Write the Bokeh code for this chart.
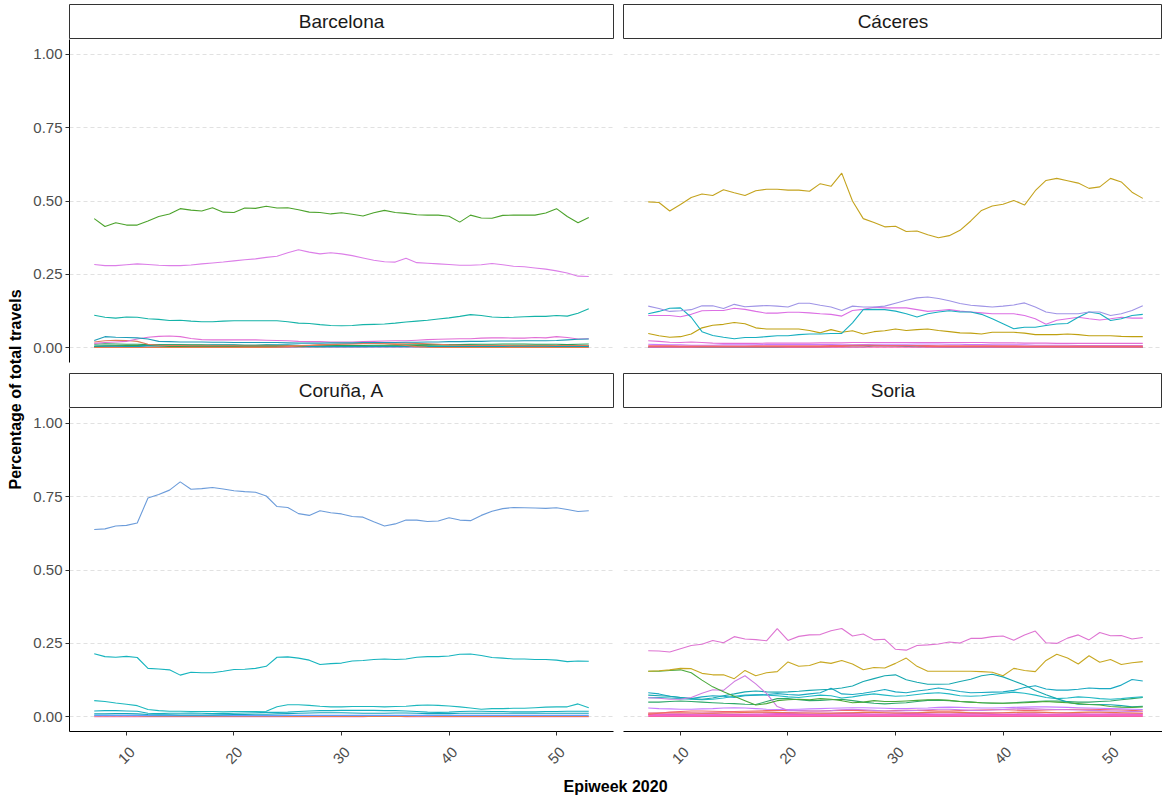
from math import pi

from bokeh.plotting import figure
from bokeh.models import Range1d, FixedTicker, LinearAxis, Grid, GridBox
from bokeh.core.properties import value
from bokeh.embed import file_html
from bokeh.resources import INLINE

# ---------------------------------------------------------------- data
weeks = list(range(7, 54))  # epiweeks 7..53 of 2020

provinces = ["Barcelona", "Cáceres", "Coruña, A", "Soria"]
y_ticks = [0.0, 0.25, 0.5, 0.75, 1.0]
y_tick_labels = ["0.00", "0.25", "0.50", "0.75", "1.00"]
x_ticks = [10, 20, 30, 40, 50]
x_tick_labels = ["10", "20", "30", "40", "50"]
y_title = "Percentage of total travels"
x_title = "Epiweek 2020"

# Barcelona
bcn_green = [0.440, 0.413, 0.426, 0.418, 0.418, 0.432, 0.447, 0.456, 0.474, 0.469,
             0.466, 0.477, 0.462, 0.461, 0.476, 0.475, 0.482, 0.476, 0.477, 0.470,
             0.462, 0.461, 0.456, 0.460, 0.455, 0.449, 0.460, 0.468, 0.461, 0.458,
             0.453, 0.452, 0.452, 0.448, 0.428, 0.452, 0.442, 0.441, 0.451, 0.452,
             0.452, 0.452, 0.459, 0.474, 0.447, 0.426, 0.444]
bcn_pink = [0.284, 0.280, 0.280, 0.283, 0.286, 0.284, 0.281, 0.280, 0.280, 0.282,
            0.286, 0.289, 0.292, 0.296, 0.300, 0.303, 0.308, 0.312, 0.324, 0.334,
            0.326, 0.320, 0.324, 0.320, 0.314, 0.306, 0.298, 0.293, 0.292, 0.305,
            0.290, 0.288, 0.286, 0.284, 0.281, 0.281, 0.283, 0.287, 0.283, 0.278,
            0.276, 0.272, 0.268, 0.262, 0.255, 0.244, 0.243]
bcn_teal = [0.111, 0.104, 0.101, 0.105, 0.104, 0.099, 0.097, 0.093, 0.094, 0.091,
            0.089, 0.089, 0.091, 0.092, 0.092, 0.092, 0.092, 0.092, 0.089, 0.084,
            0.083, 0.079, 0.076, 0.075, 0.076, 0.079, 0.080, 0.081, 0.084, 0.088,
            0.091, 0.094, 0.098, 0.102, 0.107, 0.113, 0.110, 0.105, 0.103, 0.104,
            0.106, 0.107, 0.107, 0.110, 0.108, 0.118, 0.133]
bcn_teal_lo = [0.025, 0.038, 0.036, 0.035, 0.034, 0.030, 0.022, 0.021, 0.020, 0.020,
               0.020, 0.019, 0.019, 0.018, 0.018, 0.018, 0.018, 0.018, 0.017, 0.016,
               0.016, 0.016, 0.017, 0.017, 0.017, 0.018, 0.018, 0.018, 0.018, 0.019,
               0.019, 0.020, 0.020, 0.021, 0.021, 0.022, 0.022, 0.023, 0.023, 0.023,
               0.024, 0.024, 0.024, 0.025, 0.027, 0.029, 0.030]
bcn_pink_lo = [0.015, 0.018, 0.020, 0.022, 0.030, 0.036, 0.039, 0.040, 0.038, 0.032,
               0.028, 0.027, 0.027, 0.027, 0.027, 0.027, 0.026, 0.025, 0.024, 0.022,
               0.021, 0.021, 0.020, 0.020, 0.020, 0.021, 0.022, 0.023, 0.024, 0.024,
               0.026, 0.028, 0.029, 0.030, 0.031, 0.031, 0.033, 0.034, 0.034, 0.033,
               0.033, 0.035, 0.034, 0.038, 0.035, 0.030, 0.031]
bcn_orange_lo = [0.020, 0.024, 0.026, 0.025, 0.022, 0.012, 0.009, 0.008, 0.008, 0.007,
                 0.007, 0.007, 0.007, 0.007, 0.006, 0.006, 0.006, 0.006, 0.007, 0.008,
                 0.009, 0.010, 0.011, 0.012, 0.013, 0.014, 0.015, 0.016, 0.016, 0.016,
                 0.015, 0.014, 0.012, 0.010, 0.009, 0.008, 0.008, 0.008, 0.008, 0.007,
                 0.007, 0.007, 0.007, 0.008, 0.008, 0.008, 0.008]
bcn_orange_mid = [0.001, 0.001, 0.001, 0.001, 0.001, 0.001, 0.001, 0.001, 0.001, 0.001,
                  0.001, 0.001, 0.001, 0.001, 0.001, 0.001, 0.001, 0.002, 0.004, 0.006,
                  0.008, 0.010, 0.012, 0.013, 0.014, 0.015, 0.015, 0.014, 0.012, 0.008,
                  0.004, 0.002, 0.001, 0.001, 0.001, 0.001, 0.001, 0.001, 0.001, 0.001,
                  0.001, 0.001, 0.001, 0.001, 0.001, 0.001, 0.001]
bcn_green_lo = [0.012, 0.014, 0.013, 0.012, 0.012, 0.011, 0.010, 0.010, 0.010, 0.010,
                0.010, 0.009, 0.009, 0.009, 0.009, 0.009, 0.009, 0.008, 0.008, 0.008,
                0.008, 0.008, 0.008, 0.008, 0.008, 0.008, 0.009, 0.009, 0.010, 0.010,
                0.010, 0.011, 0.011, 0.011, 0.011, 0.012, 0.012, 0.012, 0.013, 0.013,
                0.013, 0.012, 0.012, 0.012, 0.011, 0.012, 0.013]
bcn_green_band = [0.005, 0.006, 0.007, 0.008, 0.008, 0.007, 0.006, 0.005, 0.004, 0.004,
                  0.004, 0.004, 0.004, 0.004, 0.004, 0.004, 0.004, 0.004, 0.004, 0.004,
                  0.004, 0.004, 0.005, 0.005, 0.006, 0.006, 0.006, 0.006, 0.007, 0.007,
                  0.008, 0.009, 0.010, 0.010, 0.010, 0.010, 0.009, 0.009, 0.009, 0.009,
                  0.009, 0.009, 0.009, 0.008, 0.008, 0.008, 0.008]
bcn_teal_band = [0.003, 0.003, 0.003, 0.004, 0.004, 0.009, 0.010, 0.010, 0.010, 0.009,
                 0.009, 0.010, 0.010, 0.010, 0.009, 0.009, 0.010, 0.010, 0.010, 0.009,
                 0.005, 0.004, 0.004, 0.004, 0.004, 0.004, 0.004, 0.004, 0.004, 0.004,
                 0.004, 0.004, 0.004, 0.004, 0.004, 0.004, 0.004, 0.004, 0.004, 0.004,
                 0.004, 0.004, 0.004, 0.004, 0.004, 0.004, 0.004]
bcn_cyan_lo = [0.006, 0.007, 0.007, 0.006, 0.006, 0.007, 0.007, 0.008, 0.008, 0.008,
               0.008, 0.008, 0.008, 0.008, 0.008, 0.008, 0.008, 0.007, 0.006, 0.005,
               0.005, 0.005, 0.004, 0.004, 0.004, 0.004, 0.005, 0.005, 0.005, 0.005,
               0.005, 0.005, 0.005, 0.005, 0.005, 0.005, 0.005, 0.005, 0.006, 0.006,
               0.006, 0.006, 0.006, 0.006, 0.006, 0.006, 0.006]
bcn_hotpink_lo = [0.002, 0.002, 0.002, 0.002, 0.002, 0.002, 0.002, 0.002, 0.002, 0.002,
                  0.002, 0.002, 0.002, 0.002, 0.002, 0.002, 0.002, 0.002, 0.002, 0.003,
                  0.003, 0.003, 0.003, 0.003, 0.003, 0.003, 0.003, 0.003, 0.003, 0.003,
                  0.003, 0.003, 0.003, 0.003, 0.002, 0.002, 0.002, 0.002, 0.002, 0.002,
                  0.002, 0.002, 0.002, 0.002, 0.002, 0.002, 0.002]
bcn_blue_lo = [0.004, 0.004, 0.004, 0.004, 0.004, 0.003, 0.003, 0.003, 0.003, 0.003,
               0.003, 0.003, 0.003, 0.003, 0.003, 0.003, 0.003, 0.003, 0.003, 0.003,
               0.003, 0.004, 0.004, 0.004, 0.004, 0.004, 0.004, 0.004, 0.004, 0.004,
               0.004, 0.004, 0.004, 0.004, 0.004, 0.004, 0.004, 0.004, 0.004, 0.004,
               0.004, 0.004, 0.004, 0.004, 0.004, 0.004, 0.004]

# Cáceres
cac_gold = [0.497, 0.495, 0.466, 0.488, 0.512, 0.524, 0.519, 0.538, 0.528, 0.519,
            0.535, 0.540, 0.540, 0.537, 0.537, 0.533, 0.559, 0.550, 0.595, 0.500,
            0.440, 0.427, 0.412, 0.414, 0.396, 0.398, 0.385, 0.375, 0.382, 0.400,
            0.432, 0.468, 0.483, 0.489, 0.502, 0.486, 0.535, 0.570, 0.577, 0.569,
            0.561, 0.543, 0.548, 0.577, 0.565, 0.530, 0.509]
cac_lavender = [0.142, 0.134, 0.124, 0.126, 0.130, 0.143, 0.143, 0.134, 0.148, 0.140,
                0.142, 0.144, 0.142, 0.139, 0.152, 0.152, 0.145, 0.139, 0.127, 0.142,
                0.139, 0.139, 0.142, 0.152, 0.162, 0.170, 0.173, 0.168, 0.160, 0.151,
                0.145, 0.142, 0.139, 0.142, 0.146, 0.153, 0.139, 0.122, 0.116, 0.116,
                0.116, 0.122, 0.122, 0.110, 0.116, 0.127, 0.143]
cac_teal = [0.116, 0.124, 0.135, 0.136, 0.104, 0.055, 0.042, 0.036, 0.031, 0.035,
            0.035, 0.038, 0.041, 0.041, 0.045, 0.047, 0.047, 0.049, 0.049, 0.085,
            0.130, 0.131, 0.130, 0.125, 0.116, 0.105, 0.116, 0.122, 0.126, 0.122,
            0.122, 0.114, 0.099, 0.082, 0.065, 0.070, 0.070, 0.076, 0.081, 0.083,
            0.104, 0.122, 0.116, 0.093, 0.099, 0.110, 0.114]
cac_pink = [0.110, 0.110, 0.110, 0.106, 0.114, 0.126, 0.127, 0.127, 0.135, 0.131,
            0.124, 0.118, 0.118, 0.121, 0.121, 0.119, 0.116, 0.114, 0.108, 0.127,
            0.131, 0.138, 0.136, 0.136, 0.136, 0.130, 0.124, 0.127, 0.130, 0.125,
            0.122, 0.119, 0.116, 0.116, 0.116, 0.110, 0.099, 0.080, 0.094, 0.099,
            0.104, 0.099, 0.095, 0.099, 0.104, 0.101, 0.101]
cac_gold_lo = [0.049, 0.041, 0.036, 0.038, 0.047, 0.068, 0.077, 0.080, 0.086, 0.082,
               0.068, 0.064, 0.064, 0.064, 0.064, 0.059, 0.051, 0.062, 0.053, 0.058,
               0.047, 0.055, 0.058, 0.064, 0.059, 0.062, 0.064, 0.059, 0.055, 0.051,
               0.050, 0.047, 0.053, 0.053, 0.053, 0.050, 0.045, 0.045, 0.045, 0.047,
               0.045, 0.041, 0.041, 0.041, 0.039, 0.038, 0.038]
cac_pink_lo = [0.024, 0.022, 0.019, 0.018, 0.020, 0.018, 0.016, 0.015, 0.015, 0.015,
               0.015, 0.016, 0.016, 0.016, 0.016, 0.016, 0.017, 0.017, 0.017, 0.018,
               0.018, 0.018, 0.018, 0.018, 0.018, 0.018, 0.018, 0.018, 0.018, 0.018,
               0.018, 0.018, 0.017, 0.017, 0.017, 0.016, 0.016, 0.016, 0.015, 0.015,
               0.015, 0.015, 0.015, 0.015, 0.015, 0.015, 0.015]
cac_violet_lo = [0.012, 0.011, 0.010, 0.010, 0.009, 0.009, 0.009, 0.010, 0.010, 0.010,
                 0.010, 0.011, 0.011, 0.011, 0.011, 0.011, 0.011, 0.011, 0.010, 0.010,
                 0.011, 0.012, 0.012, 0.012, 0.012, 0.013, 0.013, 0.013, 0.012, 0.012,
                 0.011, 0.011, 0.010, 0.010, 0.010, 0.010, 0.009, 0.009, 0.009, 0.009,
                 0.008, 0.008, 0.008, 0.008, 0.008, 0.008, 0.008]
cac_red_lo = [0.005, 0.005, 0.005, 0.004, 0.004, 0.004, 0.004, 0.004, 0.004, 0.004,
              0.004, 0.004, 0.004, 0.004, 0.004, 0.004, 0.004, 0.005, 0.005, 0.006,
              0.006, 0.006, 0.006, 0.006, 0.006, 0.006, 0.005, 0.005, 0.005, 0.005,
              0.005, 0.005, 0.005, 0.004, 0.004, 0.004, 0.004, 0.004, 0.004, 0.004,
              0.004, 0.004, 0.004, 0.004, 0.004, 0.004, 0.004]
cac_red_band = [0.007, 0.007, 0.007, 0.006, 0.006, 0.006, 0.006, 0.006, 0.006, 0.006,
                0.007, 0.007, 0.007, 0.007, 0.007, 0.007, 0.007, 0.008, 0.008, 0.009,
                0.009, 0.009, 0.008, 0.008, 0.008, 0.008, 0.008, 0.007, 0.007, 0.007,
                0.007, 0.007, 0.007, 0.007, 0.007, 0.006, 0.006, 0.006, 0.006, 0.006,
                0.006, 0.006, 0.006, 0.006, 0.006, 0.006, 0.006]
cac_hotpink_lo = [0.002, 0.002, 0.002, 0.002, 0.002, 0.003, 0.003, 0.003, 0.003, 0.003,
                  0.003, 0.003, 0.003, 0.002, 0.002, 0.002, 0.002, 0.002, 0.002, 0.002,
                  0.002, 0.002, 0.002, 0.002, 0.002, 0.002, 0.002, 0.002, 0.002, 0.002,
                  0.002, 0.002, 0.002, 0.002, 0.002, 0.002, 0.002, 0.002, 0.002, 0.002,
                  0.002, 0.002, 0.002, 0.002, 0.002, 0.002, 0.002]
cac_green_lo = [0.001, 0.001, 0.001, 0.001, 0.001, 0.001, 0.001, 0.001, 0.001, 0.001,
                0.001, 0.001, 0.001, 0.001, 0.001, 0.001, 0.002, 0.004, 0.007, 0.008,
                0.008, 0.008, 0.008, 0.007, 0.007, 0.006, 0.004, 0.002, 0.001, 0.001,
                0.001, 0.001, 0.001, 0.001, 0.001, 0.001, 0.001, 0.001, 0.001, 0.001,
                0.001, 0.001, 0.001, 0.001, 0.001, 0.001, 0.001]
cac_teal_lo = [0.003, 0.003, 0.003, 0.003, 0.003, 0.003, 0.003, 0.003, 0.003, 0.003,
               0.003, 0.003, 0.003, 0.003, 0.003, 0.003, 0.003, 0.003, 0.003, 0.003,
               0.003, 0.006, 0.007, 0.006, 0.005, 0.003, 0.003, 0.003, 0.003, 0.003,
               0.003, 0.003, 0.003, 0.003, 0.003, 0.003, 0.003, 0.003, 0.003, 0.003,
               0.003, 0.003, 0.003, 0.003, 0.003, 0.003, 0.003]

# Coruña, A
cor_blue = [0.638, 0.640, 0.650, 0.652, 0.660, 0.745, 0.757, 0.772, 0.800, 0.775,
            0.777, 0.781, 0.776, 0.770, 0.767, 0.765, 0.752, 0.716, 0.713, 0.692,
            0.686, 0.702, 0.695, 0.691, 0.682, 0.680, 0.664, 0.650, 0.657, 0.670,
            0.670, 0.665, 0.667, 0.678, 0.670, 0.668, 0.686, 0.700, 0.709, 0.713,
            0.712, 0.711, 0.710, 0.712, 0.706, 0.699, 0.702]
cor_teal = [0.215, 0.205, 0.203, 0.206, 0.202, 0.165, 0.163, 0.160, 0.142, 0.152,
            0.150, 0.150, 0.155, 0.161, 0.162, 0.165, 0.172, 0.203, 0.204, 0.200,
            0.193, 0.178, 0.181, 0.183, 0.190, 0.192, 0.195, 0.197, 0.195, 0.197,
            0.203, 0.205, 0.205, 0.207, 0.213, 0.214, 0.209, 0.202, 0.200, 0.197,
            0.197, 0.195, 0.195, 0.193, 0.188, 0.190, 0.189]
cor_teal_mid = [0.055, 0.052, 0.047, 0.043, 0.038, 0.025, 0.021, 0.019, 0.019, 0.018,
                0.018, 0.018, 0.017, 0.018, 0.018, 0.018, 0.019, 0.034, 0.041, 0.041,
                0.039, 0.036, 0.034, 0.034, 0.035, 0.035, 0.035, 0.034, 0.035, 0.036,
                0.039, 0.040, 0.039, 0.037, 0.034, 0.030, 0.026, 0.028, 0.028, 0.029,
                0.029, 0.031, 0.033, 0.034, 0.034, 0.044, 0.031]
cor_teal_lo = [0.020, 0.021, 0.021, 0.020, 0.019, 0.012, 0.011, 0.012, 0.012, 0.013,
               0.012, 0.011, 0.011, 0.012, 0.013, 0.014, 0.015, 0.015, 0.016, 0.018,
               0.020, 0.021, 0.021, 0.022, 0.022, 0.022, 0.022, 0.021, 0.021, 0.020,
               0.018, 0.016, 0.015, 0.016, 0.018, 0.019, 0.019, 0.018, 0.018, 0.017,
               0.017, 0.017, 0.018, 0.018, 0.019, 0.019, 0.019]
cor_cyan_lo = [0.010, 0.010, 0.011, 0.011, 0.010, 0.008, 0.007, 0.007, 0.006, 0.006,
               0.006, 0.006, 0.007, 0.008, 0.008, 0.009, 0.009, 0.010, 0.011, 0.012,
               0.013, 0.014, 0.014, 0.014, 0.013, 0.012, 0.012, 0.012, 0.013, 0.013,
               0.012, 0.011, 0.011, 0.011, 0.012, 0.012, 0.012, 0.012, 0.012, 0.012,
               0.012, 0.012, 0.012, 0.012, 0.012, 0.012, 0.012]
cor_blue_lo = [0.005, 0.005, 0.005, 0.005, 0.005, 0.004, 0.004, 0.004, 0.004, 0.004,
               0.004, 0.004, 0.004, 0.004, 0.004, 0.004, 0.004, 0.004, 0.005, 0.005,
               0.005, 0.005, 0.005, 0.005, 0.005, 0.005, 0.005, 0.005, 0.005, 0.005,
               0.005, 0.005, 0.005, 0.005, 0.005, 0.005, 0.005, 0.005, 0.005, 0.005,
               0.005, 0.005, 0.005, 0.005, 0.005, 0.005, 0.005]
cor_orange_lo = [0.003, 0.003, 0.003, 0.003, 0.003, 0.001, 0.001, 0.001, 0.001, 0.001,
                 0.001, 0.001, 0.001, 0.001, 0.001, 0.001, 0.001, 0.001, 0.001, 0.001,
                 0.001, 0.001, 0.001, 0.001, 0.001, 0.001, 0.001, 0.001, 0.001, 0.001,
                 0.002, 0.002, 0.001, 0.002, 0.001, 0.001, 0.001, 0.001, 0.001, 0.001,
                 0.001, 0.001, 0.001, 0.001, 0.001, 0.001, 0.001]
cor_pink_lo = [0.000, 0.000, 0.000, 0.000, 0.000, 0.000, 0.000, 0.000, 0.000, 0.000,
               0.000, 0.000, 0.000, 0.000, 0.000, 0.000, 0.000, 0.000, 0.000, 0.000,
               0.000, 0.000, 0.000, 0.000, 0.000, 0.000, 0.002, 0.002, 0.002, 0.000,
               0.000, 0.000, 0.000, 0.000, 0.000, 0.000, 0.000, 0.000, 0.000, 0.000,
               0.000, 0.000, 0.000, 0.000, 0.000, 0.000, 0.000]

# Soria
sor_pink = [0.225, 0.224, 0.221, 0.232, 0.243, 0.247, 0.260, 0.252, 0.273, 0.265,
            0.263, 0.259, 0.300, 0.260, 0.274, 0.279, 0.280, 0.293, 0.301, 0.275,
            0.282, 0.262, 0.264, 0.230, 0.227, 0.243, 0.245, 0.248, 0.255, 0.251,
            0.267, 0.267, 0.273, 0.275, 0.261, 0.279, 0.292, 0.252, 0.250, 0.268,
            0.279, 0.262, 0.287, 0.276, 0.277, 0.265, 0.270]
sor_gold = [0.155, 0.157, 0.160, 0.165, 0.164, 0.148, 0.143, 0.143, 0.130, 0.158,
            0.140, 0.150, 0.154, 0.187, 0.172, 0.175, 0.187, 0.182, 0.192, 0.180,
            0.160, 0.168, 0.166, 0.182, 0.200, 0.172, 0.155, 0.155, 0.155, 0.155,
            0.155, 0.154, 0.152, 0.140, 0.165, 0.158, 0.154, 0.192, 0.213, 0.200,
            0.180, 0.208, 0.186, 0.195, 0.178, 0.184, 0.188]
sor_green = [0.155, 0.155, 0.158, 0.160, 0.150, 0.125, 0.102, 0.085, 0.070, 0.055,
             0.040, 0.045, 0.055, 0.058, 0.060, 0.058, 0.062, 0.060, 0.055, 0.048,
             0.050, 0.055, 0.052, 0.052, 0.054, 0.056, 0.058, 0.058, 0.056, 0.052,
             0.050, 0.048, 0.047, 0.046, 0.047, 0.048, 0.050, 0.052, 0.050, 0.048,
             0.045, 0.042, 0.040, 0.035, 0.033, 0.032, 0.034]
sor_violet = [0.065, 0.063, 0.060, 0.060, 0.066, 0.080, 0.092, 0.090, 0.120, 0.140,
              0.112, 0.080, 0.035, 0.022, 0.021, 0.020, 0.020, 0.021, 0.024, 0.026,
              0.024, 0.022, 0.020, 0.020, 0.021, 0.022, 0.024, 0.026, 0.026, 0.024,
              0.022, 0.022, 0.023, 0.025, 0.027, 0.028, 0.027, 0.026, 0.025, 0.024,
              0.023, 0.022, 0.021, 0.020, 0.019, 0.018, 0.018]
sor_teal_a = [0.074, 0.072, 0.070, 0.066, 0.062, 0.060, 0.064, 0.072, 0.078, 0.085,
              0.088, 0.085, 0.084, 0.085, 0.087, 0.090, 0.092, 0.094, 0.098, 0.105,
              0.120, 0.130, 0.140, 0.143, 0.126, 0.118, 0.111, 0.111, 0.112, 0.120,
              0.128, 0.140, 0.145, 0.136, 0.122, 0.108, 0.090, 0.075, 0.062, 0.050,
              0.043, 0.042, 0.042, 0.041, 0.038, 0.034, 0.036]
sor_teal_b = [0.082, 0.078, 0.070, 0.066, 0.062, 0.068, 0.072, 0.070, 0.066, 0.072,
              0.074, 0.076, 0.079, 0.076, 0.074, 0.078, 0.082, 0.097, 0.078, 0.076,
              0.080, 0.086, 0.093, 0.085, 0.082, 0.088, 0.092, 0.098, 0.092, 0.086,
              0.082, 0.083, 0.084, 0.085, 0.090, 0.100, 0.106, 0.095, 0.091, 0.091,
              0.094, 0.098, 0.096, 0.096, 0.108, 0.127, 0.122]
sor_cyan = [0.065, 0.066, 0.064, 0.062, 0.060, 0.058, 0.060, 0.064, 0.070, 0.074,
            0.075, 0.074, 0.072, 0.068, 0.066, 0.070, 0.074, 0.072, 0.064, 0.068,
            0.074, 0.078, 0.074, 0.070, 0.072, 0.076, 0.080, 0.082, 0.078, 0.072,
            0.070, 0.072, 0.076, 0.080, 0.084, 0.080, 0.074, 0.066, 0.062, 0.064,
            0.068, 0.066, 0.062, 0.060, 0.062, 0.066, 0.068]
sor_seagreen = [0.050, 0.050, 0.052, 0.054, 0.052, 0.050, 0.048, 0.046, 0.045, 0.043,
                0.042, 0.052, 0.062, 0.062, 0.058, 0.055, 0.056, 0.058, 0.060, 0.055,
                0.050, 0.046, 0.044, 0.046, 0.048, 0.052, 0.056, 0.057, 0.055, 0.052,
                0.050, 0.048, 0.046, 0.046, 0.048, 0.050, 0.052, 0.054, 0.054, 0.052,
                0.050, 0.050, 0.052, 0.054, 0.058, 0.062, 0.066]
sor_violet_lo = [0.030, 0.028, 0.027, 0.026, 0.026, 0.027, 0.028, 0.030, 0.031, 0.030,
                 0.028, 0.026, 0.025, 0.025, 0.026, 0.027, 0.028, 0.029, 0.030, 0.031,
                 0.031, 0.030, 0.029, 0.028, 0.028, 0.029, 0.030, 0.032, 0.033, 0.032,
                 0.031, 0.030, 0.030, 0.031, 0.032, 0.033, 0.034, 0.034, 0.033, 0.032,
                 0.031, 0.030, 0.029, 0.028, 0.027, 0.026, 0.025]
sor_red_lo = [0.008, 0.012, 0.016, 0.018, 0.020, 0.020, 0.019, 0.018, 0.018, 0.019,
              0.020, 0.021, 0.022, 0.022, 0.021, 0.020, 0.020, 0.021, 0.022, 0.022,
              0.021, 0.020, 0.020, 0.021, 0.022, 0.022, 0.021, 0.020, 0.020, 0.021,
              0.022, 0.023, 0.024, 0.024, 0.023, 0.022, 0.022, 0.023, 0.024, 0.025,
              0.026, 0.026, 0.025, 0.024, 0.023, 0.022, 0.020]
sor_orange_lo = [0.012, 0.013, 0.014, 0.014, 0.013, 0.012, 0.012, 0.013, 0.014, 0.015,
                 0.016, 0.016, 0.015, 0.014, 0.013, 0.013, 0.012, 0.012, 0.013, 0.014,
                 0.015, 0.015, 0.014, 0.013, 0.013, 0.014, 0.015, 0.016, 0.016, 0.015,
                 0.014, 0.013, 0.013, 0.014, 0.015, 0.016, 0.016, 0.015, 0.014, 0.014,
                 0.015, 0.016, 0.016, 0.015, 0.014, 0.013, 0.012]
sor_hotpink_a = [0.009, 0.009, 0.008, 0.008, 0.009, 0.010, 0.010, 0.009, 0.008, 0.008,
                 0.009, 0.010, 0.011, 0.011, 0.010, 0.009, 0.009, 0.010, 0.011, 0.011,
                 0.010, 0.009, 0.009, 0.010, 0.011, 0.011, 0.010, 0.009, 0.009, 0.010,
                 0.011, 0.011, 0.010, 0.009, 0.009, 0.010, 0.010, 0.009, 0.009, 0.010,
                 0.010, 0.009, 0.009, 0.009, 0.009, 0.009, 0.009]
sor_hotpink_b = [0.004, 0.004, 0.004, 0.004, 0.004, 0.004, 0.005, 0.005, 0.005, 0.005,
                 0.005, 0.005, 0.005, 0.005, 0.005, 0.005, 0.005, 0.005, 0.005, 0.005,
                 0.005, 0.005, 0.005, 0.005, 0.005, 0.005, 0.005, 0.005, 0.005, 0.005,
                 0.005, 0.005, 0.005, 0.005, 0.005, 0.005, 0.005, 0.005, 0.005, 0.005,
                 0.005, 0.005, 0.005, 0.005, 0.004, 0.004, 0.004]
sor_hotpink_c = [0.013, 0.013, 0.012, 0.012, 0.013, 0.013, 0.014, 0.014, 0.013, 0.013,
                 0.013, 0.014, 0.014, 0.015, 0.014, 0.013, 0.013, 0.013, 0.014, 0.014,
                 0.014, 0.013, 0.013, 0.013, 0.014, 0.014, 0.014, 0.013, 0.013, 0.013,
                 0.014, 0.014, 0.014, 0.013, 0.013, 0.013, 0.014, 0.014, 0.013, 0.013,
                 0.013, 0.013, 0.013, 0.012, 0.012, 0.012, 0.012]
sor_magenta_lo = [0.007, 0.007, 0.007, 0.007, 0.007, 0.007, 0.007, 0.007, 0.007, 0.007,
                  0.007, 0.007, 0.008, 0.008, 0.008, 0.008, 0.007, 0.007, 0.007, 0.007,
                  0.007, 0.007, 0.007, 0.007, 0.008, 0.008, 0.008, 0.007, 0.007, 0.007,
                  0.007, 0.007, 0.008, 0.008, 0.008, 0.007, 0.007, 0.007, 0.007, 0.007,
                  0.007, 0.007, 0.007, 0.007, 0.007, 0.007, 0.007]
sor_rose_lo = [0.001, 0.001, 0.001, 0.001, 0.001, 0.001, 0.001, 0.001, 0.001, 0.001,
               0.001, 0.001, 0.001, 0.001, 0.001, 0.001, 0.001, 0.001, 0.001, 0.001,
               0.001, 0.001, 0.001, 0.001, 0.001, 0.001, 0.001, 0.001, 0.001, 0.001,
               0.001, 0.001, 0.001, 0.001, 0.001, 0.001, 0.001, 0.001, 0.001, 0.001,
               0.001, 0.001, 0.001, 0.001, 0.001, 0.001, 0.001]

# series per facet, drawn in this order: (values, colour)
facet_series = {
    "Barcelona": [
        (bcn_blue_lo, "#619CFF"), (bcn_cyan_lo, "#00A5B5"), (bcn_hotpink_lo, "#FF62BC"),
        (bcn_green_band, "#3E9C4A"), (bcn_teal_band, "#12A0B4"), (bcn_green_lo, "#2E9E5A"),
        (bcn_orange_mid, "#E8794E"), (bcn_orange_lo, "#E07B5C"), (bcn_pink_lo, "#E26FD6"),
        (bcn_teal_lo, "#1E9CB8"),
        (bcn_teal, "#15B3A8"), (bcn_pink, "#DC7FE8"), (bcn_green, "#4CA32C"),
    ],
    "Cáceres": [
        (cac_green_lo, "#3E9C4A"), (cac_teal_lo, "#1E9CB8"), (cac_violet_lo, "#C77CFF"),
        (cac_pink_lo, "#E26FD6"), (cac_hotpink_lo, "#FF62BC"), (cac_red_band, "#EF6A7E"),
        (cac_red_lo, "#F2666B"), (cac_gold_lo, "#BFA010"), (cac_pink, "#DC6FE4"),
        (cac_teal, "#18AFC0"), (cac_lavender, "#9F94E6"), (cac_gold, "#C4A31E"),
    ],
    "Coruña, A": [
        (cor_pink_lo, "#E26FD6"), (cor_orange_lo, "#E8794E"), (cor_blue_lo, "#619CFF"),
        (cor_cyan_lo, "#14A5BC"), (cor_teal_lo, "#17AFC2"), (cor_teal_mid, "#1DB8BE"),
        (cor_teal, "#16B4BE"), (cor_blue, "#6C9CDA"),
    ],
    "Soria": [
        (sor_rose_lo, "#F0609A"), (sor_hotpink_b, "#FF62BC"), (sor_magenta_lo, "#E85FD0"),
        (sor_hotpink_a, "#E65CCB"), (sor_hotpink_c, "#F068C8"), (sor_orange_lo, "#E8794E"),
        (sor_red_lo, "#F2666B"), (sor_violet_lo, "#C77CFF"), (sor_seagreen, "#2EA86A"),
        (sor_cyan, "#22B8C4"), (sor_teal_b, "#1AA9C2"), (sor_teal_a, "#17A8B0"),
        (sor_violet, "#CF7CE0"), (sor_green, "#49A93A"), (sor_gold, "#C8A822"),
        (sor_pink, "#DE74D2"),
    ],
}

# ---------------------------------------------------------------- styling
FONT = "Liberation Sans"
X0, X1 = 4.7, 55.3
Y0, Y1 = -0.05, 1.05
LEFT_FRAME_W = 544
RIGHT_FRAME_W = 539
PX_PER_WEEK = LEFT_FRAME_W / (X1 - X0)
GRID_COLOR = "#E1E1E1"
TICK_LABEL_COLOR = "#4D4D4D"

PAGE_W = 1162
Y_LAB_W = 28
LEFT_COL_W = 594      # 41 px axis + 544 px frame + 9 px gap
RIGHT_COL_W = 540     # 1 px + 539 px frame


def bare_figure(width, height, x_range, y_range, left, right, top, bottom):
    f = figure(width=width, height=height, output_backend="svg", toolbar_location=None,
               x_axis_location=None, y_axis_location=None, x_range=x_range, y_range=y_range,
               min_border_left=left, min_border_right=right,
               min_border_top=top, min_border_bottom=bottom)
    f.grid.visible = False
    f.outline_line_color = None
    f.background_fill_color = "white"
    f.border_fill_color = "white"
    return f


def style_axis(ax):
    ax.axis_line_color = "black"
    ax.axis_line_width = 1
    ax.major_tick_line_color = "#333333"
    ax.major_tick_out = 4
    ax.major_tick_in = 0
    ax.minor_tick_line_color = None
    ax.major_label_text_font = FONT
    ax.major_label_text_font_size = "15px"
    ax.major_label_text_color = TICK_LABEL_COLOR
    ax.major_label_standoff = 3


def make_panel(name, width, height, left, right, bottom, x_range, with_y, with_x):
    p = bare_figure(width, height, x_range, Range1d(Y0, Y1), left, right, 0, bottom)
    p.add_layout(Grid(dimension=1, ticker=FixedTicker(ticks=y_ticks),
                      grid_line_color=GRID_COLOR, grid_line_dash="4 3", grid_line_width=1))
    if with_y:
        yax = LinearAxis(ticker=FixedTicker(ticks=y_ticks),
                         major_label_overrides=dict(zip(y_ticks, y_tick_labels)))
        style_axis(yax)
        p.add_layout(yax, "left")
    if with_x:
        # axis line and tick marks only; the slanted labels sit in their own row
        xax = LinearAxis(ticker=FixedTicker(ticks=x_ticks))
        style_axis(xax)
        xax.major_label_text_font_size = "0px"
        xax.major_label_text_alpha = 0
        xax.major_label_standoff = 0
        p.add_layout(xax, "below")
    for vals, color in facet_series[name]:
        p.line(x=weeks, y=vals, line_color=color, line_width=1.1)
    return p


def make_tick_labels(width, left, right, x_range):
    t = bare_figure(width, 39, x_range, Range1d(0, 39), left, right, 0, 0)
    t.text(x=x_ticks, y=[21] * len(x_ticks), text=x_tick_labels, angle=pi / 4,
           text_align="center", text_baseline="middle", text_font=value(FONT),
           text_font_size="15px", text_color=TICK_LABEL_COLOR)
    return t


def make_strip(label, width, height, left, right, top, bottom):
    s = bare_figure(width, height, Range1d(0, 1), Range1d(0, 1), left, right, top, bottom)
    s.outline_line_color = "#333333"
    s.outline_line_width = 1
    s.text(x=[0.5], y=[0.5], text=[label], text_align="center", text_baseline="middle",
           text_font=value(FONT), text_font_size="19px", text_color="#1A1A1A")
    return s


def make_title(text, width, height, fx, fy, angle):
    t = bare_figure(width, height, Range1d(0, 1), Range1d(0, 1), 0, 0, 0, 0)
    t.text(x=[fx], y=[fy], text=[text], angle=angle, text_align="center",
           text_baseline="middle", text_font=value(FONT), text_font_size="16px",
           text_font_style="bold", text_color="black")
    return t


# ---------------------------------------------------------------- layout
xr_left_top = Range1d(X0, X0 + LEFT_FRAME_W / PX_PER_WEEK)
xr_right_top = Range1d(X0, X0 + RIGHT_FRAME_W / PX_PER_WEEK)
xr_left_bot = Range1d(X0, X0 + LEFT_FRAME_W / PX_PER_WEEK)
xr_right_bot = Range1d(X0, X0 + RIGHT_FRAME_W / PX_PER_WEEK)

strip_tl = make_strip(provinces[0], LEFT_COL_W, 39, 41, 9, 4, 1)
strip_tr = make_strip(provinces[1], RIGHT_COL_W, 39, 1, 0, 4, 1)
pan_tl = make_panel(provinces[0], LEFT_COL_W, 333, 41, 9, 10, xr_left_top, True, False)
pan_tr = make_panel(provinces[1], RIGHT_COL_W, 333, 1, 0, 10, xr_right_top, False, False)
strip_bl = make_strip(provinces[2], LEFT_COL_W, 36, 41, 9, 1, 1)
strip_br = make_strip(provinces[3], RIGHT_COL_W, 36, 1, 0, 1, 1)
pan_bl = make_panel(provinces[2], LEFT_COL_W, 329, 41, 9, 6, xr_left_bot, True, True)
pan_br = make_panel(provinces[3], RIGHT_COL_W, 329, 1, 0, 6, xr_right_bot, False, True)
ticks_bl = make_tick_labels(LEFT_COL_W, 41, 9, xr_left_bot)
ticks_br = make_tick_labels(RIGHT_COL_W, 1, 0, xr_right_bot)

Y_LAB_H = 776
y_lab = make_title(y_title, Y_LAB_W, Y_LAB_H, 15 / Y_LAB_W, (Y_LAB_H - 387) / Y_LAB_H, pi / 2)
x_lab = make_title(x_title, PAGE_W, 20, 615 / PAGE_W, 0.5, 0)

layout = GridBox(children=[
    (y_lab, 0, 0, 5, 1),
    (strip_tl, 0, 1), (strip_tr, 0, 2),
    (pan_tl, 1, 1), (pan_tr, 1, 2),
    (strip_bl, 2, 1), (strip_br, 2, 2),
    (pan_bl, 3, 1), (pan_br, 3, 2),
    (ticks_bl, 4, 1), (ticks_br, 4, 2),
    (x_lab, 5, 0, 1, 3),
], spacing=0)

open("out.html", "w").write(file_html(layout, INLINE))
